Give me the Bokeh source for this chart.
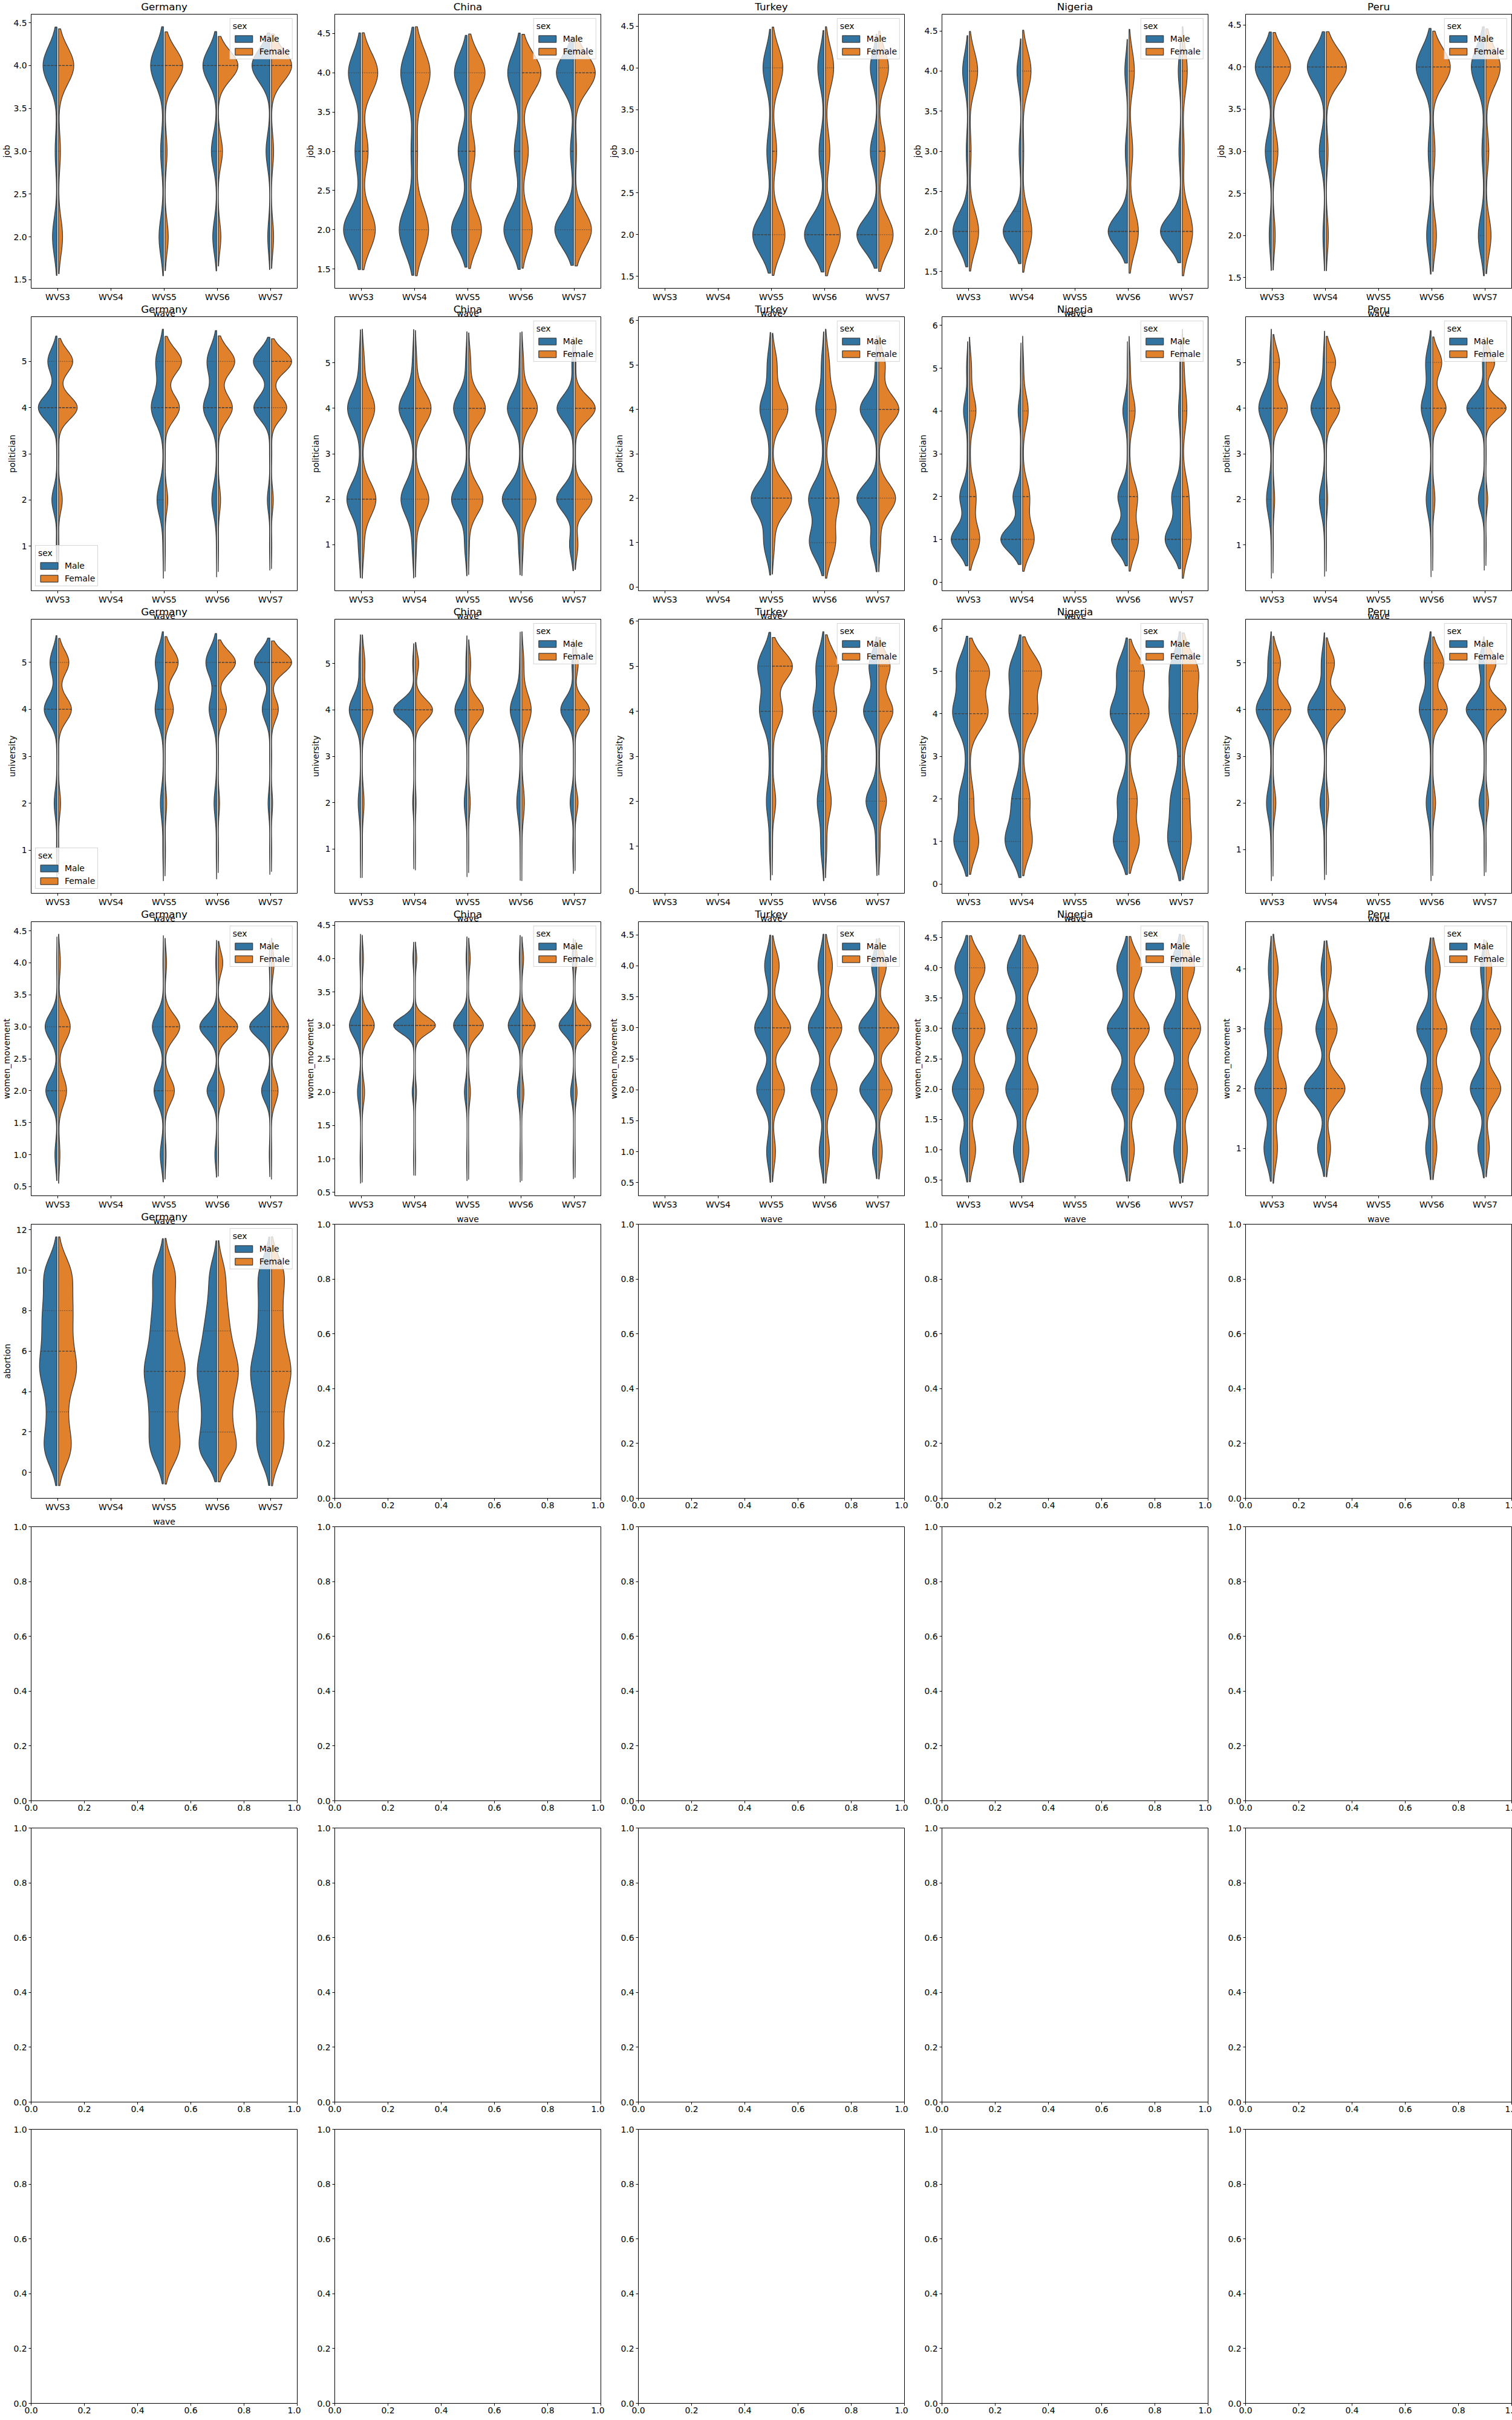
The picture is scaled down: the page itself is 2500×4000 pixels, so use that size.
import numpy as np
from bokeh.plotting import figure
from bokeh.models import Range1d, FixedTicker, NumeralTickFormatter, Legend, LegendItem, Title
from bokeh.layouts import gridplot
from bokeh.embed import file_html
from bokeh.resources import INLINE

# ---------------------------------------------------------------- data
COUNTRIES = ["Germany", "China", "Turkey", "Nigeria", "Peru"]
WAVES = ["WVS3", "WVS4", "WVS5", "WVS6", "WVS7"]
SEXES = ["Male", "Female"]
VARIABLES = ["job", "politician", "university", "women_movement", "abortion"]
X_LABEL = "wave"

LEVELS = {
    "job": [2, 3, 4],
    "politician": [1, 2, 3, 4, 5],
    "university": [1, 2, 3, 4, 5],
    "women_movement": [1, 2, 3, 4],
    "abortion": [1, 2, 3, 4, 5, 6, 7, 8, 9, 10],
}

# share of answers (%) at each level: (Male, Female)
JOB_PCT = {
    "Germany": {"WVS3": ([22, 9, 69], [19, 9, 72]), "WVS5": ([22, 14, 64], [14, 9, 77]),
                "WVS6": ([17, 23, 60], [10, 16, 74]), "WVS7": ([9, 16, 75], [9, 9, 82])},
    "China": {"WVS3": ([49, 16, 35], [38, 17, 45]), "WVS4": ([48, 9, 43], [44, 7, 49]),
              "WVS5": ([42, 24, 34], [36, 18, 46]), "WVS6": ([47, 17, 36], [29, 18, 53]),
              "WVS7": ([48, 8, 44], [43, 4, 53])},
    "Turkey": {"WVS5": ([61, 13, 26], [46, 16, 38]), "WVS6": ([64, 16, 20], [54, 16, 30]),
               "WVS7": ([60, 20, 20], [47, 21, 32])},
    "Nigeria": {"WVS3": ([69, 7, 24], [48, 9, 43]), "WVS4": ([75, 8, 17], [49, 6, 45]),
                "WVS6": ([80, 9, 11], [51, 20, 29]), "WVS7": ([83, 7, 10], [60, 11, 29])},
    "Peru": {"WVS3": ([9, 25, 66], [9, 20, 71]), "WVS4": ([7, 22, 71], [9, 8, 83]),
             "WVS6": ([20, 13, 67], [16, 10, 74]), "WVS7": ([28, 11, 61], [23, 13, 64])},
}
JOB_N = {
    "Germany": {"WVS3": 690, "WVS5": 640, "WVS6": 850, "WVS7": 405},
    "China": {"WVS3": 580, "WVS4": 380, "WVS5": 640, "WVS6": 580, "WVS7": 1330},
    "Turkey": {"WVS5": 740, "WVS6": 600, "WVS7": 1000},
    "Nigeria": {"WVS3": 850, "WVS4": 800, "WVS6": 410, "WVS7": 350},
    "Peru": {"WVS3": 310, "WVS4": 205, "WVS6": 540, "WVS7": 690},
}

POL_PCT = {
    "Germany": {"WVS3": ([2, 15, 1, 55, 27], [1, 10, 1, 50, 38]), "WVS5": ([2, 24, 1, 45, 28], [1, 8, 1, 42, 48]),
                "WVS6": ([1, 17, 1, 47, 34], [1, 7, 1, 42, 49]), "WVS7": ([1, 7, 1, 45, 46], [1, 5, 1, 40, 53])},
    "China": {"WVS3": ([7, 44, 2, 42, 5], [6, 45, 1, 41, 7]), "WVS4": ([5, 42, 1, 48, 4], [3, 43, 1, 50, 4]),
              "WVS5": ([7, 47, 1, 41, 4], [2, 42, 1, 49, 6]), "WVS6": ([5, 53, 1, 38, 3], [4, 43, 1, 47, 5]),
              "WVS7": ([10, 43, 1, 42, 4], [7, 41, 1, 49, 2])},
    "Turkey": {"WVS5": ([16, 47, 3, 26, 8], [5, 46, 1, 37, 11]), "WVS6": ([35, 37, 2, 20, 6], [26, 35, 1, 28, 10]),
               "WVS7": ([14, 44, 1, 37, 4], [4, 37, 1, 44, 14])},
    "Nigeria": {"WVS3": ([54, 26, 2, 14, 4], [39, 25, 3, 25, 8]), "WVS4": ([63, 25, 2, 9, 2], [45, 27, 2, 22, 4]),
                "WVS6": ([52, 31, 1, 15, 1], [37, 33, 2, 24, 5]), "WVS7": ([56, 32, 1, 8, 3], [40, 29, 2, 21, 8])},
    "Peru": {"WVS3": ([1, 25, 1, 65, 8], [1, 7, 1, 63, 28]), "WVS4": ([1, 25, 1, 66, 7], [1, 6, 1, 54, 38]),
             "WVS6": ([1, 24, 1, 48, 26], [1, 9, 1, 53, 36]), "WVS7": ([1, 23, 1, 68, 7], [1, 6, 1, 64, 28])},
}
POL_N = {
    "Germany": {"WVS3": 700, "WVS5": 410, "WVS6": 315, "WVS7": 410},
    "China": {"WVS3": 320, "WVS4": 270, "WVS5": 410, "WVS6": 380, "WVS7": 1160},
    "Turkey": {"WVS5": 470, "WVS6": 490, "WVS7": 690},
    "Nigeria": {"WVS3": 910, "WVS4": 510, "WVS6": 540, "WVS7": 255},
    "Peru": {"WVS3": 150, "WVS4": 190, "WVS6": 350, "WVS7": 490},
}

UNI_PCT = {
    "Germany": {"WVS3": ([2, 12, 1, 55, 30], [1, 8, 1, 50, 40]), "WVS5": ([3, 15, 1, 41, 40], [2, 7, 1, 35, 55]),
                "WVS6": ([2, 12, 1, 35, 50], [1, 5, 1, 30, 63]), "WVS7": ([1, 7, 1, 30, 61], [1, 4, 1, 24, 70])},
    "China": {"WVS3": ([2, 15, 1, 72, 10], [2, 12, 1, 68, 17]), "WVS4": ([1, 5, 1, 88, 5], [1, 3, 1, 80, 15]),
              "WVS5": ([1, 17, 1, 74, 7], [1, 9, 1, 78, 11]), "WVS6": ([1, 24, 1, 70, 4], [1, 18, 1, 66, 14]),
              "WVS7": ([4, 18, 1, 69, 8], [1, 14, 1, 69, 15])},
    "Turkey": {"WVS5": ([4, 14, 4, 36, 42], [1, 10, 3, 29, 57]), "WVS6": ([10, 22, 6, 36, 26], [4, 18, 4, 34, 40]),
               "WVS7": ([4, 32, 2, 39, 23], [4, 22, 2, 40, 32])},
    "Nigeria": {"WVS3": ([28, 17, 3, 30, 22], [18, 8, 1, 35, 38]), "WVS4": ([33, 18, 1, 24, 24], [19, 14, 1, 29, 37]),
                "WVS6": ([27, 19, 1, 33, 20], [19, 15, 1, 37, 28]), "WVS7": ([28, 21, 3, 24, 24], [19, 15, 1, 31, 34])},
    "Peru": {"WVS3": ([2, 20, 2, 62, 14], [1, 10, 1, 62, 26]), "WVS4": ([2, 18, 1, 66, 13], [1, 8, 1, 63, 27]),
             "WVS6": ([2, 20, 2, 48, 28], [1, 10, 1, 50, 38]), "WVS7": ([1, 18, 1, 62, 18], [1, 8, 1, 60, 30])},
}
UNI_N = {
    "Germany": {"WVS3": 500, "WVS5": 500, "WVS6": 500, "WVS7": 500},
    "China": {"WVS3": 210, "WVS4": 125, "WVS5": 205, "WVS6": 165, "WVS7": 770},
    "Turkey": {"WVS5": 300, "WVS6": 530, "WVS7": 870},
    "Nigeria": {"WVS3": 830, "WVS4": 850, "WVS6": 1000, "WVS7": 480},
    "Peru": {"WVS3": 250, "WVS4": 250, "WVS6": 400, "WVS7": 500},
}

WM_PCT = {
    "Germany": {"WVS3": ([8, 44, 47, 1], [6, 35, 51, 8]), "WVS5": ([13, 39, 46, 2], [4, 35, 55, 6]),
                "WVS6": ([6, 33, 58, 3], [1, 20, 64, 15]), "WVS7": ([2, 28, 68, 2], [1, 25, 64, 10])},
    "China": {"WVS3": ([3, 20, 72, 5], [2, 15, 75, 8]), "WVS4": ([1, 7, 88, 4], [1, 5, 88, 6]),
              "WVS5": ([2, 15, 78, 5], [1, 10, 80, 9]), "WVS6": ([2, 18, 74, 6], [1, 12, 77, 10]),
              "WVS7": ([2, 15, 76, 7], [1, 10, 78, 11])},
    "Turkey": {"WVS5": ([10, 35, 40, 15], [8, 30, 45, 17]), "WVS6": ([12, 33, 40, 15], [10, 30, 42, 18]),
               "WVS7": ([10, 38, 40, 12], [8, 30, 45, 17])},
    "Nigeria": {"WVS3": ([15, 30, 30, 25], [12, 28, 30, 30]), "WVS4": ([15, 30, 28, 27], [12, 30, 28, 30]),
                "WVS6": ([12, 30, 38, 20], [10, 28, 38, 24]), "WVS7": ([14, 32, 34, 20], [10, 30, 36, 24])},
    "Peru": {"WVS3": ([22, 49, 20, 9], [14, 42, 28, 16]), "WVS4": ([18, 51, 22, 9], [11, 48, 28, 13]),
             "WVS6": ([15, 29, 40, 16], [12, 27, 40, 21]), "WVS7": ([17, 37, 36, 10], [9, 38, 38, 15])},
}
WM_N = {
    "Germany": {"WVS3": 350, "WVS5": 490, "WVS6": 690, "WVS7": 300},
    "China": {"WVS3": 300, "WVS4": 300, "WVS5": 300, "WVS6": 300, "WVS7": 600},
    "Turkey": {"WVS5": 500, "WVS6": 500, "WVS7": 800},
    "Nigeria": {"WVS3": 800, "WVS4": 800, "WVS6": 600, "WVS7": 500},
    "Peru": {"WVS3": 310, "WVS4": 580, "WVS6": 570, "WVS7": 580},
}

ABORTION_PCT = {
    "Germany": {"WVS3": ([13, 7, 7, 7, 15, 10, 10, 11, 7, 13], [13, 7, 6, 7, 16, 10, 9, 11, 8, 13]),
                "WVS5": ([12, 9, 10, 10, 16, 10, 9, 8, 6, 10], [14, 9, 8, 10, 17, 11, 8, 7, 6, 10]),
                "WVS6": ([16, 10, 10, 11, 15, 11, 9, 7, 5, 6], [17, 10, 9, 11, 16, 11, 8, 7, 5, 6]),
                "WVS7": ([12, 8, 9, 11, 16, 10, 8, 8, 7, 11], [11, 8, 8, 10, 17, 10, 8, 8, 7, 13])},
}
ABORTION_N = {"Germany": {"WVS3": 560, "WVS5": 600, "WVS6": 700, "WVS7": 490}}

JOB_YTICKS = {"Germany": [1.5, 2.0, 2.5, 3.0, 3.5, 4.0, 4.5], "China": [1.5, 2.0, 2.5, 3.0, 3.5, 4.0, 4.5],
              "Turkey": [1.5, 2.0, 2.5, 3.0, 3.5, 4.0, 4.5], "Nigeria": [1.5, 2.0, 2.5, 3.0, 3.5, 4.0, 4.5],
              "Peru": [1.5, 2.0, 2.5, 3.0, 3.5, 4.0, 4.5]}
POL_YTICKS = {"Germany": [1, 2, 3, 4, 5], "China": [1, 2, 3, 4, 5], "Turkey": [0, 1, 2, 3, 4, 5, 6],
              "Nigeria": [0, 1, 2, 3, 4, 5, 6], "Peru": [1, 2, 3, 4, 5]}
UNI_YTICKS = {"Germany": [1, 2, 3, 4, 5], "China": [1, 2, 3, 4, 5], "Turkey": [0, 1, 2, 3, 4, 5, 6],
              "Nigeria": [0, 1, 2, 3, 4, 5, 6], "Peru": [1, 2, 3, 4, 5]}
WM_YTICKS = {"Germany": [0.5, 1.0, 1.5, 2.0, 2.5, 3.0, 3.5, 4.0, 4.5],
             "China": [0.5, 1.0, 1.5, 2.0, 2.5, 3.0, 3.5, 4.0, 4.5],
             "Turkey": [0.5, 1.0, 1.5, 2.0, 2.5, 3.0, 3.5, 4.0, 4.5],
             "Nigeria": [0.5, 1.0, 1.5, 2.0, 2.5, 3.0, 3.5, 4.0, 4.5],
             "Peru": [1, 2, 3, 4]}
ABORTION_YTICKS = {"Germany": [0, 2, 4, 6, 8, 10, 12]}
EMPTY_TICKS = [0.0, 0.2, 0.4, 0.6, 0.8, 1.0]

LEGEND_PLACE = {("politician", "Germany"): "bottom_left", ("university", "Germany"): "bottom_left"}

TABLES = {
    "job": (JOB_PCT, JOB_N, JOB_YTICKS),
    "politician": (POL_PCT, POL_N, POL_YTICKS),
    "university": (UNI_PCT, UNI_N, UNI_YTICKS),
    "women_movement": (WM_PCT, WM_N, WM_YTICKS),
    "abortion": (ABORTION_PCT, ABORTION_N, ABORTION_YTICKS),
}

# ---------------------------------------------------------------- style
FONT = "DejaVu Sans"
TICK_FS = "13.9px"
TITLE_FS = "16.7px"
COLORS = {"Male": "#3274a1", "Female": "#e1812c"}
EDGE = "#3f3f3f"
FW, FH = 440, 453
NROWS, NCOLS = 8, 5
BORDER_L, BORDER_R, BORDER_R_LAST = 46, 11, 26
BORDER_T, BORDER_B = 22, 23
TICK_OUT = 4
Y_STANDOFF = 3
GAP = 0.015
HALF = 0.38


def kde_half(pct, levels, n):
    lv = np.asarray(levels, dtype=float)
    p = np.asarray(pct, dtype=float)
    p = p / p.sum()
    counts = np.where(p > 0, np.maximum(1, np.round(p * n)), 0).astype(int)
    data = np.repeat(lv, counts)
    m = data.size
    bw = np.sqrt(np.cov(data)) * m ** (-0.2)
    grid = np.linspace(data.min() - 2 * bw, data.max() + 2 * bw, 100)
    wts = counts / m
    z = (grid[None, :] - lv[:, None]) / bw
    dens = (wts[:, None] * np.exp(-0.5 * z * z)).sum(axis=0) / (bw * np.sqrt(2 * np.pi))
    quart = np.percentile(data, [25, 50, 75])
    return grid, dens, quart


def label_width(s):
    return sum(0.318 if ch == "." else 0.636 for ch in s) * 13.9


def base_fig(col, xr, yr):
    p = figure(frame_width=FW, frame_height=FH, x_range=xr, y_range=yr,
               min_border_left=BORDER_L, min_border_right=(BORDER_R_LAST if col == NCOLS - 1 else BORDER_R),
               min_border_top=BORDER_T, min_border_bottom=BORDER_B,
               toolbar_location=None, tools="", output_backend="svg", title=None)
    p.xgrid.visible = False
    p.ygrid.visible = False
    p.outline_line_color = "black"
    p.outline_line_width = 1
    p.background_fill_color = "white"
    p.border_fill_color = "white"
    for ax in (p.xaxis[0], p.yaxis[0]):
        ax.axis_line_color = None
        ax.major_tick_line_color = "black"
        ax.major_tick_line_width = 1
        ax.major_tick_in = 0
        ax.major_tick_out = TICK_OUT
        ax.minor_tick_line_color = None
        ax.major_label_text_font = FONT
        ax.major_label_text_font_size = TICK_FS
        ax.major_label_text_color = "black"
        ax.axis_label_text_font = FONT
        ax.axis_label_text_font_size = TICK_FS
        ax.axis_label_text_font_style = "normal"
        ax.axis_label_text_color = "black"
    p.xaxis[0].major_label_standoff = 2
    p.yaxis[0].major_label_standoff = Y_STANDOFF
    return p


def set_yticks(p, ticks, lo, hi):
    is_int = all(float(t).is_integer() for t in ticks)
    p.yaxis[0].ticker = FixedTicker(ticks=list(ticks), minor_ticks=[])
    p.yaxis[0].formatter = NumeralTickFormatter(format="0" if is_int else "0.0")
    shown = [t for t in ticks if lo <= t <= hi]
    texts = [(str(int(t)) if is_int else f"{t:.1f}") for t in shown]
    return max(label_width(s) for s in texts)


def title_obj(text, size, standoff, valign):
    return Title(text=text, align="center", vertical_align=valign, standoff=standoff,
                 text_font=FONT, text_font_size=size, text_font_style="normal", text_color="black")


def violin_panel(var, country, col):
    pct_t, n_t, tick_t = TABLES[var]
    pct = pct_t[country]
    nn = n_t[country]
    halves = []
    for wi, wave in enumerate(WAVES):
        if wave not in pct:
            continue
        for si, sex in enumerate(SEXES):
            grid, dens, q = kde_half(pct[wave][si], LEVELS[var], nn[wave])
            halves.append((wi, si, grid, dens, q))
    dmax = max(h[3].max() for h in halves)
    lo = min(h[2][0] for h in halves)
    hi = max(h[2][-1] for h in halves)
    pad = 0.05 * (hi - lo)
    y0, y1 = lo - pad, hi + pad
    p = base_fig(col, Range1d(-0.5, 4.5), Range1d(y0, y1))
    p.xaxis[0].ticker = FixedTicker(ticks=list(range(len(WAVES))), minor_ticks=[])
    p.xaxis[0].major_label_overrides = {i: w for i, w in enumerate(WAVES)}
    tw = set_yticks(p, tick_t[country], y0, y1)
    p.yaxis[0].axis_label = var
    room = BORDER_L - (TICK_OUT + Y_STANDOFF + tw + 16.2) - 1
    p.yaxis[0].axis_label_standoff = int(max(0, min(5, room)))

    poly = {s: ([], []) for s in SEXES}
    med = ([], [], [], [])
    qrt = ([], [], [], [])
    for wi, si, grid, dens, q in halves:
        sign = -1.0 if si == 0 else 1.0
        inner = wi + sign * GAP
        outer = inner + sign * HALF * dens / dmax
        poly[SEXES[si]][0].append(np.concatenate([outer, [inner, inner]]))
        poly[SEXES[si]][1].append(np.concatenate([grid, [grid[-1], grid[0]]]))
        for k, qv in enumerate(q):
            wq = np.interp(qv, grid, dens)
            tgt = med if k == 1 else qrt
            tgt[0].append(inner)
            tgt[1].append(qv)
            tgt[2].append(inner + sign * HALF * wq / dmax)
            tgt[3].append(qv)

    rends = {}
    for sex in SEXES:
        rends[sex] = p.patches(xs=poly[sex][0], ys=poly[sex][1], fill_color=COLORS[sex],
                               line_color=EDGE, line_width=1.3)
    p.segment(x0=qrt[0], y0=qrt[1], x1=qrt[2], y1=qrt[3], line_color=EDGE, line_width=1.3, line_dash="1 2")
    p.segment(x0=med[0], y0=med[1], x1=med[2], y1=med[3], line_color=EDGE, line_width=1.3, line_dash="4 2")

    legend = Legend(items=[LegendItem(label=s, renderers=[rends[s]]) for s in SEXES],
                    location=LEGEND_PLACE.get((var, country), "top_right"),
                    title="sex", title_text_font=FONT, title_text_font_size=TICK_FS,
                    title_text_font_style="normal", title_text_color="black", title_standoff=5,
                    label_text_font=FONT, label_text_font_size=TICK_FS, label_text_color="black",
                    glyph_width=36, glyph_height=14, label_standoff=8, label_height=16,
                    spacing=5, padding=4, margin=7,
                    border_line_color="#cccccc", border_line_alpha=0.8, border_line_width=1,
                    background_fill_color="white", background_fill_alpha=0.8)
    p.add_layout(legend)
    return p


def empty_panel(col):
    p = base_fig(col, Range1d(0, 1), Range1d(0, 1))
    p.xaxis[0].ticker = FixedTicker(ticks=EMPTY_TICKS, minor_ticks=[])
    p.xaxis[0].formatter = NumeralTickFormatter(format="0.0")
    p.yaxis[0].ticker = FixedTicker(ticks=EMPTY_TICKS, minor_ticks=[])
    p.yaxis[0].formatter = NumeralTickFormatter(format="0.0")
    return p


figs = [[None] * NCOLS for _ in range(NROWS)]
panel_title = {}
for r, var in enumerate(VARIABLES):
    for c, country in enumerate(COUNTRIES):
        if country in TABLES[var][0]:
            figs[r][c] = violin_panel(var, country, c)
            panel_title[(r, c)] = country
for r in range(NROWS):
    for c in range(NCOLS):
        if figs[r][c] is None:
            figs[r][c] = empty_panel(c)

# Titles above each violin panel; the x-axis label of the panel above shares that band
for r in range(NROWS):
    for c in range(NCOLS):
        p = figs[r][c]
        has_title = (r, c) in panel_title
        has_wave = r >= 1 and (r - 1, c) in panel_title
        if has_wave and has_title:
            p.add_layout(title_obj(X_LABEL, TICK_FS, -4, "bottom"), "above")
            p.add_layout(title_obj(panel_title[(r, c)], TITLE_FS, -23, "bottom"), "above")
        elif has_wave:
            p.add_layout(title_obj(X_LABEL, TICK_FS, 1, "bottom"), "above")
        elif has_title:
            p.add_layout(title_obj(panel_title[(r, c)], TITLE_FS, 1, "top"), "above")

layout = gridplot(figs, toolbar_location=None)

with open("out.html", "w", encoding="utf-8") as f:
    f.write(file_html(layout, INLINE, title="WVS violins"))
